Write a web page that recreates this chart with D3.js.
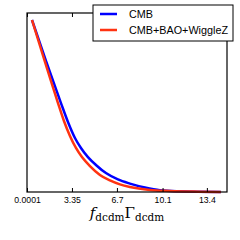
<!DOCTYPE html>
<html><head><meta charset="utf-8">
<script src="https://cdn.jsdelivr.net/npm/d3@7"></script>
<style>body{margin:0;background:#fff}svg{display:block}</style>
</head><body>
<svg id="c" width="240" height="240"></svg>
<script>
const xTicks = [0.0001, 3.35, 6.7, 10.1, 13.4];
const xTickLabels = ["0.0001", "3.35", "6.7", "10.1", "13.4"];
const seriesNames = ["CMB", "CMB+BAO+WiggleZ"];
const cmbX = [0.372, 1.414, 2.531, 3.052, 3.573, 4.02, 4.541, 5.137, 5.881, 6.774, 7.668, 8.784, 9.901, 11.39, 14.442];
const cmbY = [1.0, 0.762, 0.517, 0.407, 0.314, 0.256, 0.203, 0.157, 0.11, 0.073, 0.049, 0.026, 0.01, 0.004, 0.0];
const combX = [0.372, 1.34, 2.285, 2.754, 3.201, 3.648, 4.094, 4.69, 5.434, 6.179, 6.923, 7.668, 9.157, 10.646, 12.879, 14.442];
const combY = [1.0, 0.756, 0.523, 0.413, 0.326, 0.256, 0.203, 0.151, 0.099, 0.067, 0.044, 0.029, 0.012, 0.006, 0.002, 0.0];

const svg = d3.select("#c");
const L = 27, R = 227, T = 13, B = 192;
const x = d3.scaleLinear().domain([0.0001, 14.9]).range([L, R]);
const y = d3.scaleLinear().domain([0, 1.0407]).range([B, T]);

const line = d3.line().x(d => x(d[0])).y(d => y(d[1])).curve(d3.curveMonotoneX);
const series = [
  {name: seriesNames[0], pts: d3.zip(cmbX, cmbY), color: "#0000ff"},
  {name: seriesNames[1], pts: d3.zip(combX, combY), color: "#ff3311"}
];
series.forEach(s => {
  svg.append("path").attr("d", line(s.pts)).attr("fill", "none")
    .attr("stroke", s.color).attr("stroke-width", 2.5);
});

// frame
svg.append("rect").attr("x", L).attr("y", T).attr("width", R - L).attr("height", B - T)
  .attr("fill", "none").attr("stroke", "#000").attr("stroke-width", 1.2);

// bottom axis (inward ticks)
const bottomAxis = svg.append("g").attr("transform", `translate(0,${B})`)
  .call(d3.axisBottom(x).tickValues(xTicks).tickFormat((d, i) => xTickLabels[i]).tickSizeInner(-4).tickSizeOuter(0).tickPadding(5));
bottomAxis.select(".domain").remove();
bottomAxis.selectAll("text").attr("font-family", "Liberation Sans, Arial, sans-serif").attr("font-size", 8.7).attr("fill", "#000");
bottomAxis.selectAll("line").attr("stroke", "#000");
const topAxis = svg.append("g").attr("transform", `translate(0,${T})`)
  .call(d3.axisTop(x).tickValues(xTicks).tickFormat("").tickSizeInner(-4).tickSizeOuter(0));
topAxis.select(".domain").remove();
topAxis.selectAll("line").attr("stroke", "#000");

// x label
const lab = svg.append("text").attr("x", (L + R) / 2).attr("y", 218).attr("text-anchor", "middle")
  .attr("font-family", "DejaVu Serif, Liberation Serif, serif").attr("font-size", 15).attr("fill", "#000");
lab.append("tspan").attr("font-style", "italic").text("f");
lab.append("tspan").attr("font-size", 10.5).attr("dy", 3).text("dcdm");
lab.append("tspan").attr("dy", -3).text("Γ");
lab.append("tspan").attr("font-size", 10.5).attr("dy", 3).text("dcdm");

// legend
const lg = svg.append("g");
lg.append("rect").attr("x", 93).attr("y", 5).attr("width", 140).attr("height", 36)
  .attr("fill", "#fff").attr("stroke", "#000").attr("stroke-width", 1);
series.forEach((s, i) => {
  const yy = 14 + i * 16;
  lg.append("line").attr("x1", 100).attr("x2", 117).attr("y1", yy).attr("y2", yy)
    .attr("stroke", s.color).attr("stroke-width", 2.5);
  lg.append("text").attr("x", 129).attr("y", yy + 3.8).text(s.name)
    .attr("font-family", "Liberation Sans, Arial, sans-serif").attr("font-size", 10.8).attr("fill", "#000");
});
</script>
</body></html>
